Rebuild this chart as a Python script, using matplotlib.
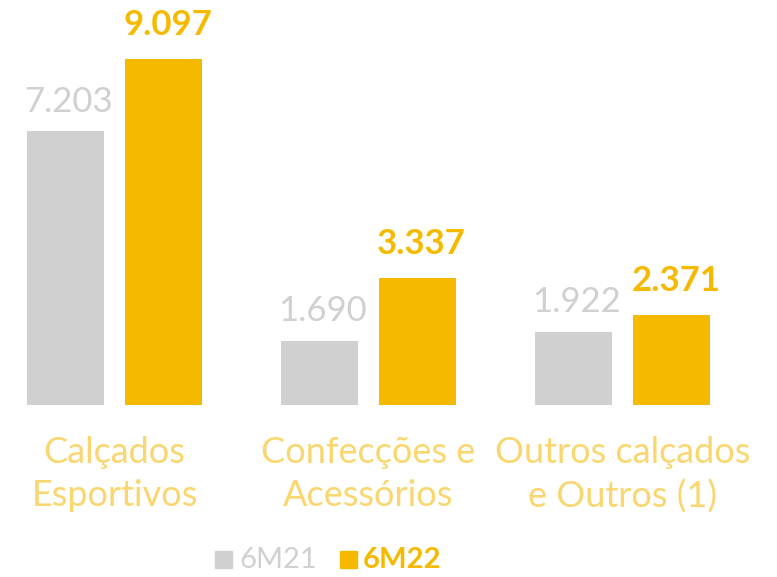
import matplotlib.pyplot as plt
import numpy as np

categories = ["Calçados\nEsportivos", "Confecções e\nAcessórios", "Outros calçados\ne Outros (1)"]
v21 = [7.203, 1.690, 1.922]
v22 = [9.097, 3.337, 2.371]
lab21 = ["7.203", "1.690", "1.922"]
lab22 = ["9.097", "3.337", "2.371"]

gray = "#D0D0D0"
gold = "#F5BA00"
lightgold = "#F9D66E"
plt.rcParams['font.family'] = ['Lato', 'DejaVu Sans']

fig = plt.figure(figsize=(7.77, 5.77), dpi=100)
ax = fig.add_axes([0, 172/577, 1, 405/577])
x = np.arange(len(categories))
w = 77/254
off = 49/254
b1 = ax.bar(x - off, v21, w, color=gray)
b2 = ax.bar(x + off, v22, w, color=gold)
ax.set_xlim(-114.5/254, (777-114.5)/254)
ax.set_ylim(0, 10.65)
ax.axis('off')

for i in range(len(x)):
    ax.annotate(lab21[i], (x[i] - off, v21[i]), xytext=(2, 14), textcoords='offset points',
                ha='center', va='baseline', fontsize=25, color=gray)
    ax.annotate(lab22[i], (x[i] + off, v22[i]), xytext=(3, 17), textcoords='offset points',
                ha='center', va='baseline', fontsize=25, color=gold, fontweight='bold')
    ax.annotate(categories[i], (x[i], 0), xytext=(0, -22), textcoords='offset points',
                ha='center', va='top', fontsize=26, color=lightgold, linespacing=1.4)

# legend
fig.patches.append(plt.Rectangle((215/777, 1-568/577), 17/777, 17/577, transform=fig.transFigure, color=gray))
fig.text(239/777, 1-560/577, "6M21", fontsize=21, color=gray, va='center', ha='left')
fig.patches.append(plt.Rectangle((340/777, 1-568/577), 17/777, 17/577, transform=fig.transFigure, color=gold))
fig.text(363/777, 1-560/577, "6M22", fontsize=21, color=gold, va='center', ha='left', fontweight='bold')

fig.savefig("out.png", dpi=100)
